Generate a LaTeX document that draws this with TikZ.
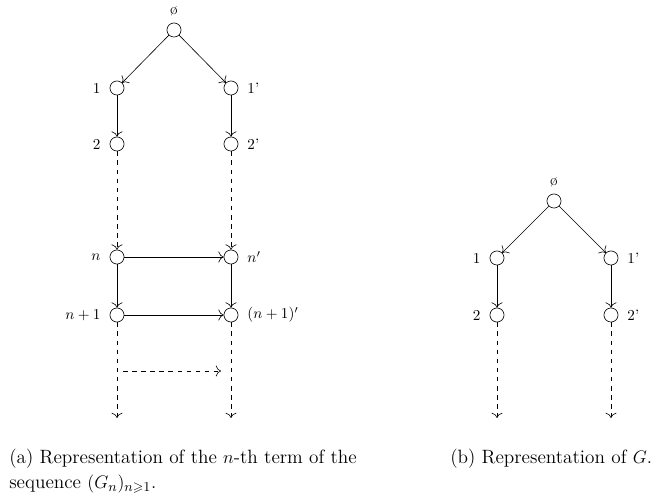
\documentclass[tikz,border=0pt]{standalone}
\usepackage{amssymb}
\usetikzlibrary{arrows.meta}
\begin{document}
\begin{tikzpicture}[x=0.66pt,y=-0.66pt,>={To[scale=1.4]},
  vtx/.style={circle,draw,minimum size=9.3pt,inner sep=0pt},
  arr/.style={->},
  darr/.style={->,dashed},
  captxt/.style={anchor=north west,align=left,inner sep=0pt,font=\fontsize{12.7pt}{15.5pt}\selectfont}]
\useasboundingbox (0,0) rectangle (660,495);
% (a)
\node[vtx,label={[label distance=1pt]above:\o}] (r) at (174,30) {};
\node[vtx,label={[label distance=2.5pt]left:1}] (a1) at (117,88) {};
\node[vtx,label={[label distance=2.5pt]right:1'}] (b1) at (231,88) {};
\node[vtx,label={[label distance=2.5pt]left:2}] (a2) at (117,144) {};
\node[vtx,label={[label distance=2.5pt]right:2'}] (b2) at (231,144) {};
\node[vtx,label={[label distance=2.5pt]left:$n$}] (an) at (117,257) {};
\node[vtx,label={[label distance=2.5pt]right:$n'$}] (bn) at (231,257) {};
\node[vtx,label={[label distance=2.5pt]left:$n+1$}] (am) at (117,315) {};
\node[vtx,label={[label distance=2.5pt]right:$(n+1)'$}] (bm) at (231,315) {};
\coordinate (ae) at (117,418);
\coordinate (be) at (231,418);
\coordinate (hs) at (123,371);
\coordinate (he) at (221,371);
\draw[arr] (r) -- (a1);
\draw[arr] (r) -- (b1);
\draw[arr] (a1) -- (a2);
\draw[arr] (b1) -- (b2);
\draw[darr] (a2) -- (an);
\draw[darr] (b2) -- (bn);
\draw[arr] (an) -- (am);
\draw[arr] (bn) -- (bm);
\draw[arr] (an) -- (bn);
\draw[arr] (am) -- (bm);
\draw[darr] (am) -- (ae);
\draw[darr] (bm) -- (be);
\draw[darr] (hs) -- (he);
% (b)
\node[vtx,label={[label distance=1pt]above:\o}] (R) at (554,201) {};
\node[vtx,label={[label distance=2.5pt]left:1}] (A1) at (497,258) {};
\node[vtx,label={[label distance=2.5pt]right:1'}] (B1) at (611,258) {};
\node[vtx,label={[label distance=2.5pt]left:2}] (A2) at (497,315) {};
\node[vtx,label={[label distance=2.5pt]right:2'}] (B2) at (611,315) {};
\coordinate (AE) at (497,418);
\coordinate (BE) at (611,418);
\draw[arr] (R) -- (A1);
\draw[arr] (R) -- (B1);
\draw[arr] (A1) -- (A2);
\draw[arr] (B1) -- (B2);
\draw[darr] (A2) -- (AE);
\draw[darr] (B2) -- (BE);
% captions
\node[captxt] (capa) at (9,449) {(a) Representation of the $n$-th term of the\\[1pt] sequence $(G_n)_{n\geqslant 1}$.};
\node[captxt] (capb) at (450,449) {(b) Representation of $G$.};
\end{tikzpicture}
\end{document}
